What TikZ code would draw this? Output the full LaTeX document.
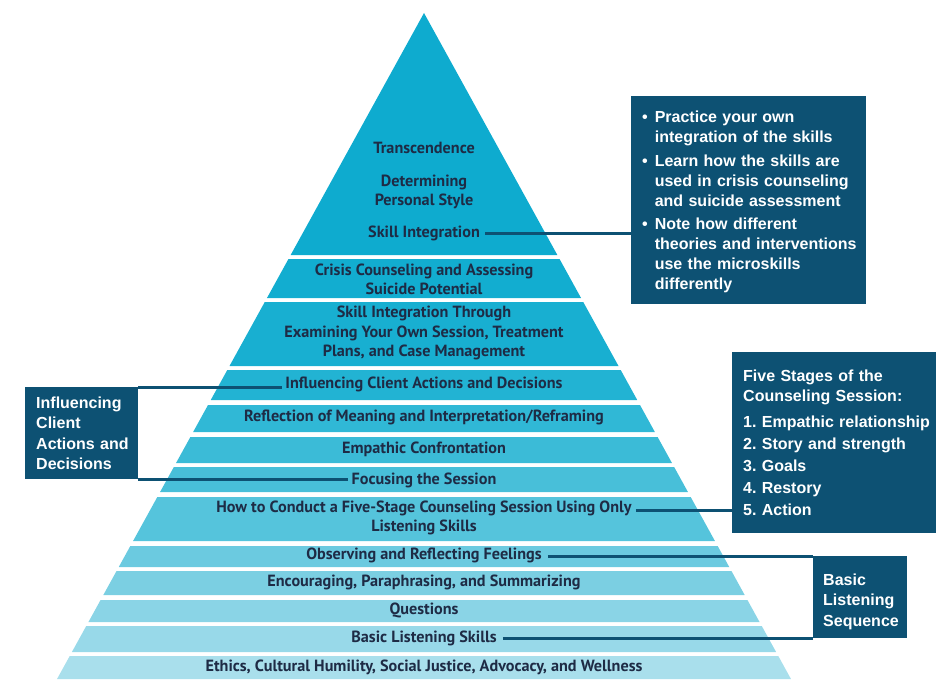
\documentclass[tikz,border=0pt]{standalone}
\usepackage{fontspec}
\setmainfont{PT Sans}
\newfontfamily\boxfont{Liberation Sans}
\definecolor{c1}{HTML}{0EABCF}
\definecolor{c2}{HTML}{12ADD0}
\definecolor{c3}{HTML}{18AFD1}
\definecolor{c4}{HTML}{22B3D3}
\definecolor{c5}{HTML}{30B8D6}
\definecolor{c6}{HTML}{3BBBD7}
\definecolor{c7}{HTML}{48BFD9}
\definecolor{c8}{HTML}{55C4DC}
\definecolor{c9}{HTML}{6BCAE0}
\definecolor{c10}{HTML}{7BCFE2}
\definecolor{c11}{HTML}{8AD4E6}
\definecolor{c12}{HTML}{98D9E9}
\definecolor{c13}{HTML}{A9DFEC}
\definecolor{txt}{HTML}{1E2B45}
\definecolor{boxc}{HTML}{0D5173}
\hyphenpenalty=10000
\frenchspacing
\begin{document}
\begin{tikzpicture}[x=1pt,y=-1pt,
  lay/.style={font=\bfseries\fontsize{16.2}{19.5}\selectfont, text=txt, inner sep=0pt, align=center},
  dbox/.style={fill=boxc, text=white, font=\boxfont\bfseries\fontsize{16}{20.5}\selectfont, align=left, anchor=north west, inner ysep=0pt},
  conn/.style={draw=boxc, line width=3pt}]
\useasboundingbox (0,0) rectangle (952,695);
% pyramid
\fill[c1] (424,13) -- ({424+0.551*242},255) -- ({424-0.551*242},255) -- cycle;
\foreach \t/\b/\c in {259/298/c2, 302/366/c3, 370/400/c4, 405/432/c5, 437/463/c6, 467/492/c7, 497/541/c8, 546/567/c9, 571/595/c10, 600/622/c11, 626/652/c12, 656/679/c13}{
  \fill[\c] ({424-0.551*(\t-13)},\t) -- ({424+0.551*(\t-13)},\t) -- ({424+0.551*(\b-13)},\b) -- ({424-0.551*(\b-13)},\b) -- cycle;
}
% layer texts
\node[lay] (tr) at (424,148) {Transcendence};
\node[lay] (dps) at (424,192) {Determining\\Personal Style};
\node[lay] (si) at (424,233) {Skill Integration};
\node[lay] (cc) at (424,279.5) {Crisis Counseling and Assessing\\Suicide Potential};
\node[lay] (sit) at (424,333) {Skill Integration Through\\Examining Your Own Session, Treatment\\Plans, and Case Management};
\node[lay] (infl) at (424,384) {Influencing Client Actions and Decisions};
\node[lay] (rm) at (424,417) {Reflection of Meaning and Interpretation/Reframing};
\node[lay] (ec) at (424,449) {Empathic Confrontation};
\node[lay] (foc) at (424,480) {Focusing the Session};
\node[lay] (howto) at (424,518) {How to Conduct a Five-Stage Counseling Session Using Only\\Listening Skills};
\node[lay] (obs) at (424,555) {Observing and Reflecting Feelings};
\node[lay] (enc) at (424,582) {Encouraging, Paraphrasing, and Summarizing};
\node[lay] (q) at (424,610) {Questions};
\node[lay] (bls) at (424,638) {Basic Listening Skills};
\node[lay] (eth) at (424,667) {Ethics, Cultural Humility, Social Justice, Advocacy, and Wellness};
% boxes
\node[dbox, font=\boxfont\bfseries\fontsize{16}{20}\selectfont, minimum width=235pt, minimum height=208pt, text width=213pt, inner xsep=11pt] (b1) at (631,96) {%
\begin{tabular}{@{}l@{\hspace{7pt}}l@{}}
\rule{0pt}{18.5pt}\textbullet & Practice your own\\
 & integration of the skills\\[3.5pt]
\textbullet & Learn how the skills are\\
 & used in crisis counseling\\
 & and suicide assessment\\[3.5pt]
\textbullet & Note how different\\
 & theories and interventions\\
 & use the microskills\\
 & differently
\end{tabular}};
\node[dbox, font=\boxfont\bfseries\fontsize{16}{22}\selectfont, minimum width=204pt, minimum height=181pt, text width=182pt, inner xsep=11pt] (b2) at (732,352) {\mbox{Five Stages of the}\\[-2pt]\mbox{Counseling Session:}\\[4pt]\mbox{1. Empathic relationship}\\\mbox{2. Story and strength}\\3. Goals\\4. Restory\\5. Action};
\node[dbox, minimum width=113pt, minimum height=92pt, text width=91pt, inner xsep=11pt] (ib) at (25,387) {Influencing\\Client\\\mbox{Actions and}\\Decisions};
\node[dbox, minimum width=94pt, minimum height=82pt, text width=74pt, inner xsep=10pt] (bl) at (813,556) {\rule{0pt}{20.5pt}Basic\\Listening\\Sequence};
% connectors
\draw[conn] ([xshift=5pt]si.east) -- (si.east -| b1.west);
\draw[conn] (ib.north east) -- ([xshift=-3pt]ib.north east -| infl.west);
\draw[conn] (ib.south east) -- ([xshift=-3pt]ib.south east -| foc.west);
\coordinate (howA) at ([xshift=4pt,yshift=-10pt]howto.north east);
\draw[conn] (howA) -- (howA -| b2.west);
\draw[conn] ([xshift=6pt]obs.east |- bl.north west) -- (bl.north west);
\draw[conn] ([xshift=6pt]bls.east |- bl.south west) -- (bl.south west);
\end{tikzpicture}
\end{document}
